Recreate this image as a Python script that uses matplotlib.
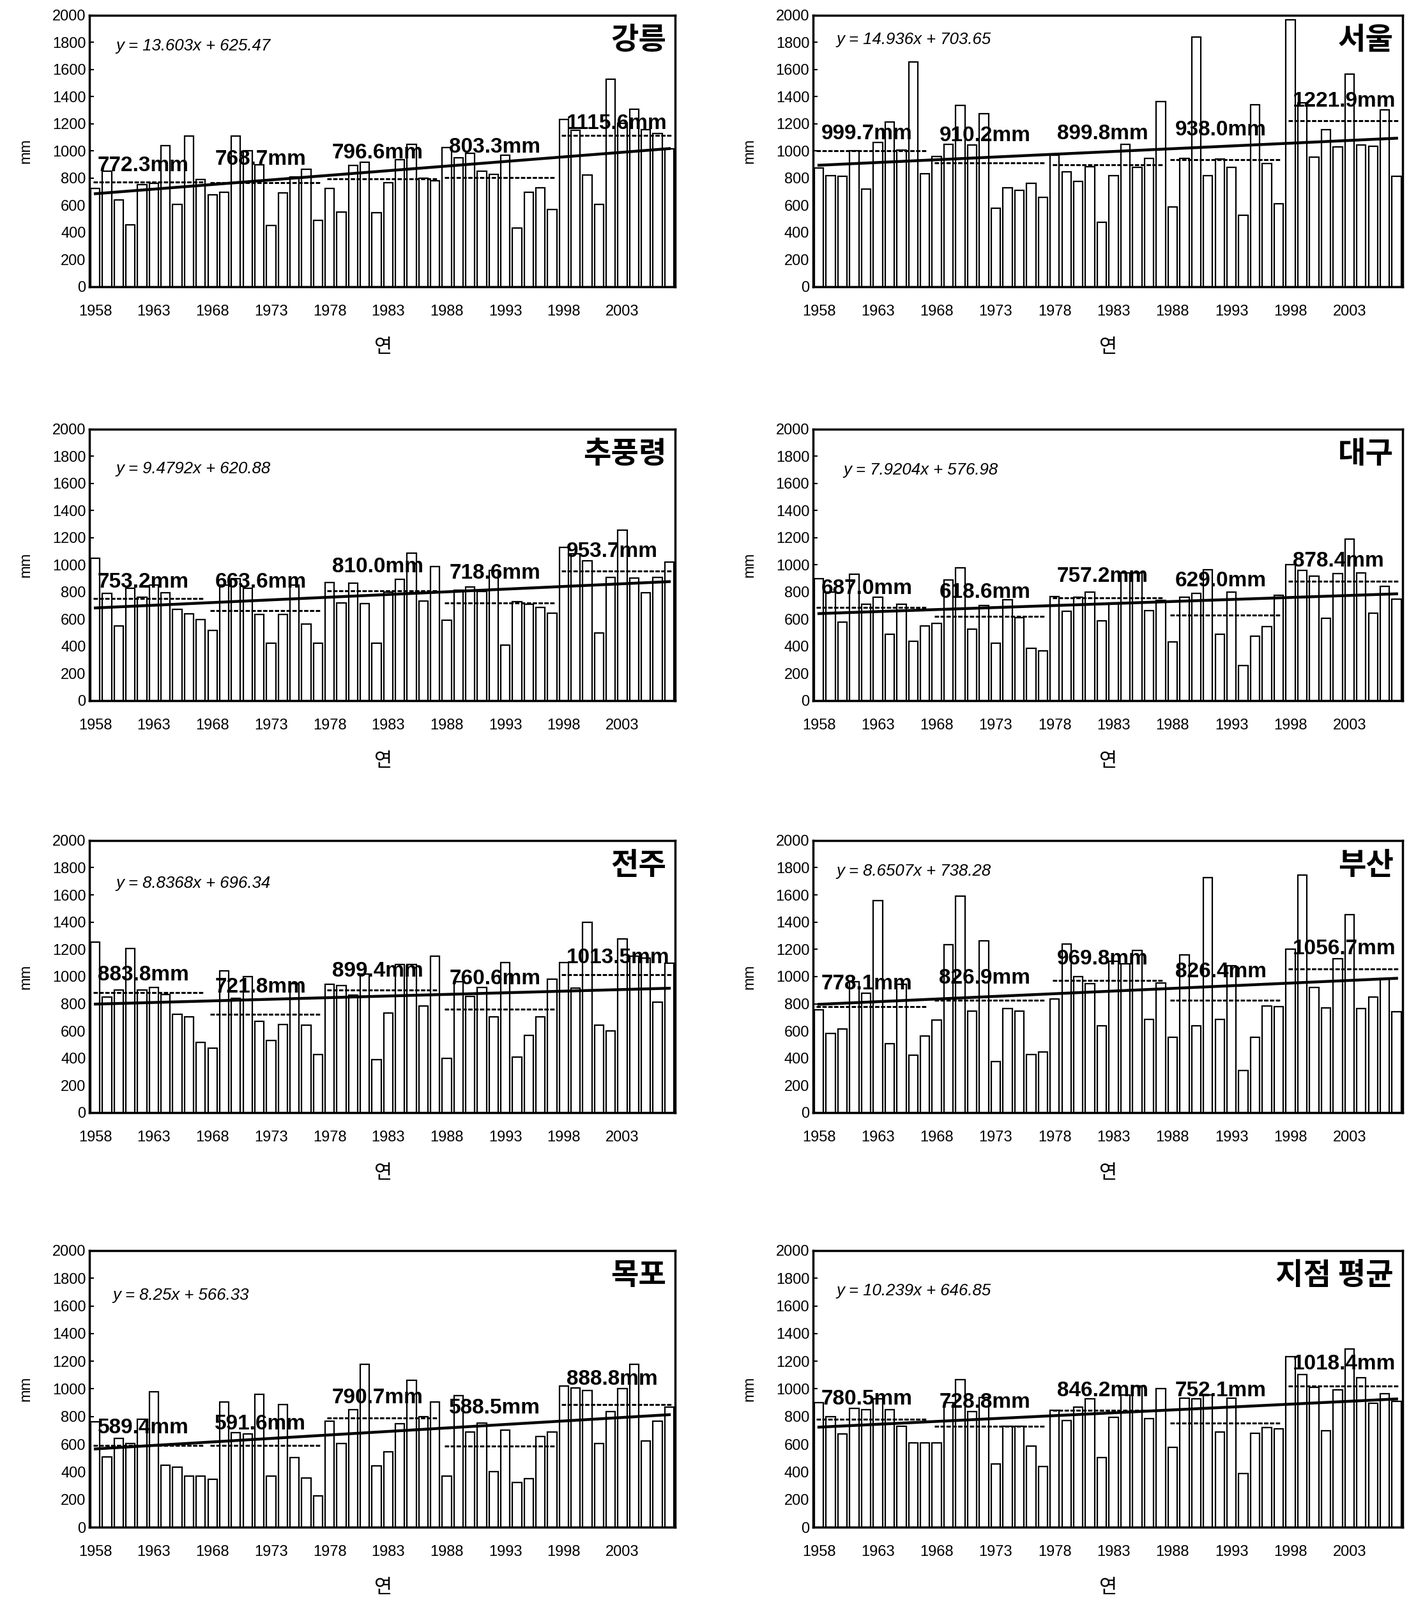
import matplotlib
matplotlib.use('Agg')
import matplotlib.pyplot as plt
import numpy as np

plt.rcParams['font.family'] = ['Liberation Sans', 'Noto Sans CJK KR', 'DejaVu Sans']

# 연도 (1958~2007)
years = list(range(1958, 2008))
tick_years = list(range(1958, 2004, 5))
decade_starts = [1958, 1968, 1978, 1988, 1998]

stations = ['강릉', '서울', '추풍령', '대구', '전주', '부산', '목포', '지점 평균']

# 연강수량 (mm), 그림에서 읽은 값
gangneung = [724, 850, 638, 457, 750, 760, 1039, 606, 1110, 789,
             677, 695, 1110, 1003, 898, 449, 693, 811, 863, 488,
             726, 551, 893, 918, 546, 767, 937, 1050, 798, 780,
             1024, 950, 985, 850, 829, 968, 430, 696, 731, 570,
             1233, 1150, 822, 606, 1528, 1205, 1309, 1157, 1129, 1017]
seoul = [876, 817, 814, 1002, 720, 1065, 1214, 1005, 1654, 830,
         960, 1050, 1335, 1044, 1274, 580, 731, 708, 764, 656,
         971, 845, 774, 885, 476, 818, 1049, 877, 947, 1364,
         586, 943, 1838, 817, 940, 877, 528, 1340, 908, 613,
         1964, 1354, 955, 1156, 1031, 1565, 1042, 1034, 1304, 814]
chupungnyeong = [1050, 790, 550, 830, 760, 850, 793, 672, 640, 597,
                 519, 850, 900, 830, 637, 425, 637, 850, 566, 422,
                 872, 719, 867, 716, 425, 800, 894, 1086, 734, 988,
                 591, 812, 836, 805, 960, 409, 730, 710, 688, 645,
                 1128, 1080, 1031, 500, 909, 1258, 905, 794, 909, 1023]
daegu = [899, 800, 579, 930, 711, 763, 489, 712, 436, 551,
         567, 888, 977, 525, 700, 421, 744, 610, 385, 369,
         766, 657, 760, 798, 587, 720, 941, 941, 665, 737,
         431, 762, 790, 964, 489, 801, 260, 474, 545, 774,
         1000, 960, 919, 607, 935, 1190, 941, 642, 844, 746]
jeonju = [1253, 850, 900, 1206, 900, 920, 870, 725, 703, 516,
          475, 1042, 839, 1000, 672, 531, 647, 946, 641, 425,
          944, 933, 862, 1020, 391, 730, 1089, 1089, 784, 1152,
          397, 960, 855, 922, 703, 1105, 409, 569, 706, 980,
          1105, 917, 1397, 641, 600, 1277, 1150, 1138, 813, 1097]
busan = [757, 580, 616, 960, 877, 1557, 507, 941, 424, 562,
         679, 1236, 1591, 746, 1261, 374, 764, 746, 429, 445,
         835, 1240, 1000, 949, 636, 1110, 1094, 1193, 686, 955,
         554, 1158, 636, 1729, 686, 1078, 309, 554, 783, 777,
         1201, 1747, 920, 772, 1129, 1454, 767, 850, 986, 741]
mokpo = [761, 507, 640, 607, 781, 977, 449, 436, 368, 368,
         348, 905, 685, 673, 962, 368, 889, 503, 356, 227,
         766, 606, 851, 1176, 445, 544, 750, 1064, 800, 905,
         368, 951, 688, 752, 402, 704, 322, 353, 657, 688,
         1021, 1005, 990, 606, 836, 1000, 1176, 622, 766, 866]
station_mean = [900, 800, 672, 859, 850, 930, 849, 729, 608, 608,
                608, 900, 1067, 836, 937, 456, 729, 729, 585, 441,
                843, 772, 866, 927, 502, 793, 957, 1019, 783, 1000,
                578, 935, 930, 954, 687, 935, 388, 681, 722, 711,
                1234, 1106, 1011, 699, 995, 1289, 1079, 894, 965, 912]

rain = [gangneung, seoul, chupungnyeong, daegu, jeonju, busan, mokpo, station_mean]

# 그림에 적힌 추세식 계수
slopes = [13.603, 14.936, 9.4792, 7.9204, 8.8368, 8.6507, 8.25, 10.239]
intercepts = [625.47, 703.65, 620.88, 576.98, 696.34, 738.28, 566.33, 646.85]

# 10년 평균
decade_means = [[772.3, 768.7, 796.6, 803.3, 1115.6],
                [999.7, 910.2, 899.8, 938.0, 1221.9],
                [753.2, 663.6, 810.0, 718.6, 953.7],
                [687.0, 618.6, 757.2, 629.0, 878.4],
                [883.8, 721.8, 899.4, 760.6, 1013.5],
                [778.1, 826.9, 969.8, 826.4, 1056.7],
                [589.4, 591.6, 790.7, 588.5, 888.8],
                [780.5, 728.8, 846.2, 752.1, 1018.4]]

# 배치 (라벨 높이, 식 위치, 축 위치)
label_y = [[893, 938, 983, 1028, 1200],
           [1125, 1110, 1125, 1155, 1365],
           [872, 872, 985, 940, 1098],
           [827, 797, 917, 880, 1030],
           [1011, 921, 1041, 981, 1139],
           [944, 989, 1131, 1034, 1206],
           [716, 745, 937, 863, 1070],
           [927, 905, 985, 985, 1182]]
eq_pos = [(0.045, 0.887), (0.04, 0.91), (0.045, 0.853), (0.052, 0.85),
          (0.045, 0.843), (0.04, 0.888), (0.04, 0.838), (0.04, 0.854)]
col_left = [0.0635, 0.577]
col_width = [0.4157, 0.4184]
row_bottom = [0.8208, 0.5621, 0.3046, 0.0455]
row_height = [0.1697, 0.1697, 0.1701, 0.1729]

fig = plt.figure(figsize=(22.06, 25.05), dpi=100)

for k, name in enumerate(stations):
    r, c = divmod(k, 2)
    ax = fig.add_axes([col_left[c], row_bottom[r], col_width[c], row_height[r]])

    # 막대
    ax.bar(years, rain[k], width=0.78, color='white', edgecolor='black',
           linewidth=1.6, zorder=2)

    # 추세선 (최소제곱)
    fit = np.polyfit(years, rain[k], 1)
    ax.plot(years, np.polyval(fit, years), color='black', lw=3.2, zorder=4)

    # 10년 평균선과 라벨
    for d, s in enumerate(decade_starts):
        m = decade_means[k][d]
        ax.plot([s - 0.2, s + 9.2], [m, m], color='black', lw=2.2,
                ls=(0, (2.2, 0.8)), zorder=3)
        ax.text(s + 0.2, label_y[k][d], f'{m:.1f}mm', fontsize=24,
                fontweight='bold', ha='left', va='center', zorder=5)

    ax.text(eq_pos[k][0], eq_pos[k][1], f'y = {slopes[k]}x + {intercepts[k]}',
            transform=ax.transAxes, fontsize=18.5, style='italic',
            ha='left', va='center')
    ax.text(0.985, 0.965, name, transform=ax.transAxes, fontsize=34,
            fontweight='bold', ha='right', va='top',
            family=['Noto Sans CJK KR', 'DejaVu Sans'])

    ax.set_xlim(1957.5, 2007.5)
    ax.set_ylim(0, 2000)
    ax.set_xticks(tick_years)
    ax.set_yticks(range(0, 2001, 200))
    ax.tick_params(axis='x', length=0, pad=20, labelsize=17)
    ax.tick_params(axis='y', direction='in', length=5, width=1.5, pad=4, labelsize=17)
    for sp in ax.spines.values():
        sp.set_linewidth(2.5)

    ax.set_ylabel('mm', fontsize=17, labelpad=22)
    ax.set_xlabel('연', fontsize=22, labelpad=22)

fig.savefig('out.png', dpi=100)
